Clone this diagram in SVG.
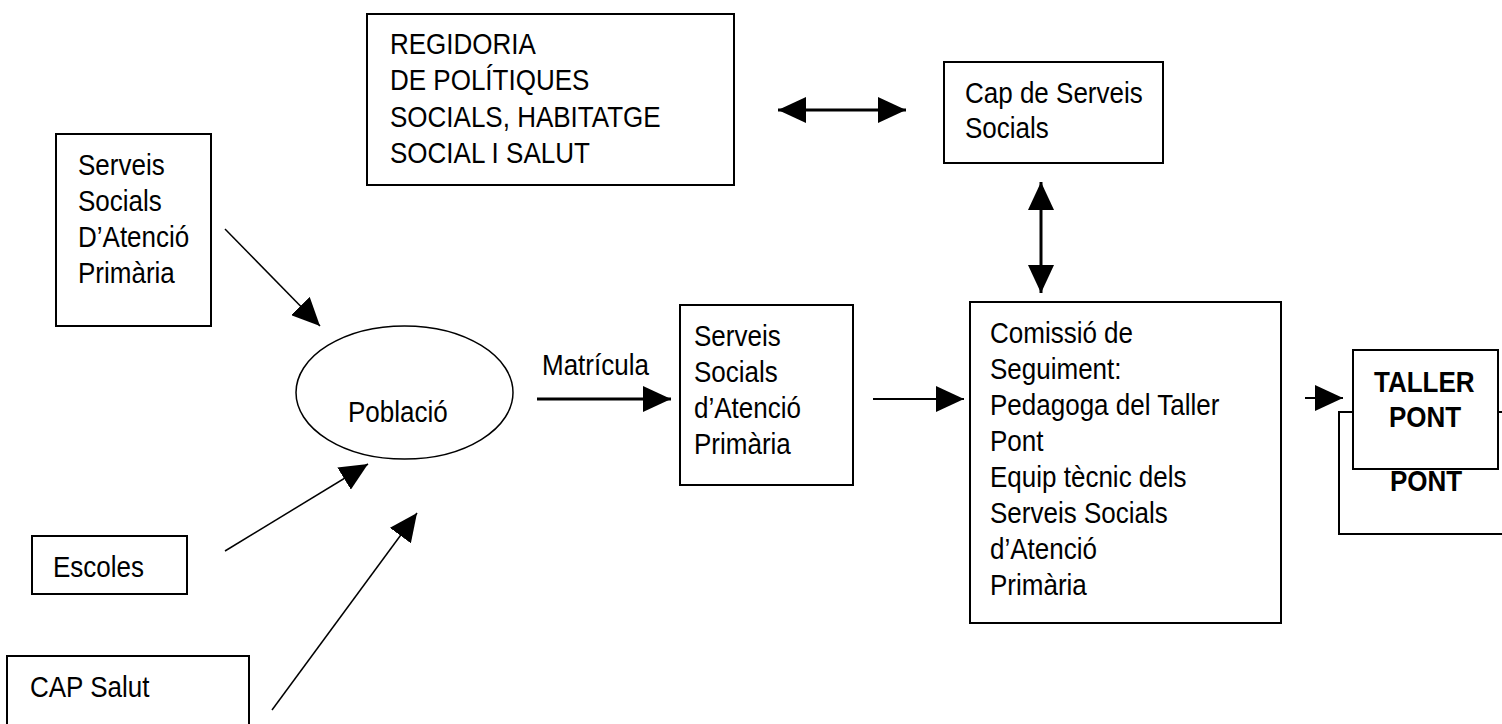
<svg xmlns="http://www.w3.org/2000/svg" width="1502" height="724" viewBox="0 0 1502 724">
<style>
.box{fill:#fff;stroke:#000;stroke-width:2}
.t{font-family:"Liberation Sans",Arial,sans-serif;font-size:29px;fill:#000}
.b{font-weight:bold}
.c{stroke:#000;fill:none}
</style>
<defs>
<marker id="ah" markerUnits="userSpaceOnUse" markerWidth="28" markerHeight="26" refX="28" refY="13" orient="auto-start-reverse" viewBox="0 0 28 26">
<path d="M0,0 L28,13 L0,26 z" fill="#000"/>
</marker>
</defs>
<rect width="1502" height="724" fill="#fff"/>

<g id="regidoria">
<rect class="box" x="367" y="14" width="367" height="171"/>
<text class="t" transform="translate(390 54) scale(0.897 1)"><tspan x="0" y="0">REGIDORIA</tspan><tspan x="0" dy="36.3">DE POLÍTIQUES</tspan><tspan x="0" dy="36.3">SOCIALS, HABITATGE</tspan><tspan x="0" dy="36.3">SOCIAL I SALUT</tspan></text>
</g>

<g id="cap-serveis">
<rect class="box" x="944" y="62" width="219" height="101"/>
<text class="t" transform="translate(965 103) scale(0.897 1)"><tspan x="0" y="0">Cap de Serveis</tspan><tspan x="0" dy="35">Socials</tspan></text>
</g>

<g id="serveis-left">
<rect class="box" x="56" y="134" width="155" height="192"/>
<text class="t" transform="translate(78 175) scale(0.897 1)"><tspan x="0" y="0">Serveis</tspan><tspan x="0" dy="36">Socials</tspan><tspan x="0" dy="36">D’Atenció</tspan><tspan x="0" dy="36">Primària</tspan></text>
</g>

<g id="poblacio">
<ellipse cx="404.5" cy="392.5" rx="108.5" ry="66.5" fill="#fff" stroke="#000" stroke-width="1.5"/>
<text class="t" transform="translate(348 422) scale(0.897 1)">Població</text>
</g>

<g id="escoles">
<rect class="box" x="32" y="536" width="155" height="58"/>
<text class="t" transform="translate(53 577) scale(0.897 1)">Escoles</text>
</g>

<g id="cap-salut">
<rect class="box" x="7" y="656" width="242" height="80"/>
<text class="t" transform="translate(30 697) scale(0.897 1)">CAP Salut</text>
</g>

<g id="serveis-mid">
<rect class="box" x="680" y="305" width="173" height="180"/>
<text class="t" transform="translate(694 346) scale(0.897 1)"><tspan x="0" y="0">Serveis</tspan><tspan x="0" dy="36">Socials</tspan><tspan x="0" dy="36">d’Atenció</tspan><tspan x="0" dy="36">Primària</tspan></text>
</g>

<g id="comissio">
<rect class="box" x="970" y="302" width="311" height="321"/>
<text class="t" transform="translate(990 343) scale(0.897 1)"><tspan x="0" y="0">Comissió de</tspan><tspan x="0" dy="36">Seguiment:</tspan><tspan x="0" dy="36">Pedagoga del Taller</tspan><tspan x="0" dy="36">Pont</tspan><tspan x="0" dy="36">Equip tècnic dels</tspan><tspan x="0" dy="36">Serveis Socials</tspan><tspan x="0" dy="36">d’Atenció</tspan><tspan x="0" dy="36">Primària</tspan></text>
</g>

<g id="taller-pont-back">
<rect class="box" x="1339" y="412" width="175" height="122"/>
<text class="t b" transform="translate(1390 491) scale(0.897 1)">PONT</text>
</g>

<g id="taller-pont">
<rect class="box" x="1353" y="350" width="145" height="119"/>
<text class="t b" transform="translate(1374 392) scale(0.897 1)">TALLER</text>
<text class="t b" transform="translate(1389 427) scale(0.897 1)">PONT</text>
</g>

<g id="connectors">
<line class="c" x1="778" y1="110" x2="906" y2="110" stroke-width="3" marker-start="url(#ah)" marker-end="url(#ah)"/>
<line class="c" x1="1041" y1="182" x2="1041" y2="293" stroke-width="3" marker-start="url(#ah)" marker-end="url(#ah)"/>
<line class="c" x1="225" y1="229" x2="320" y2="326" stroke-width="1.5" marker-end="url(#ah)"/>
<line class="c" x1="225" y1="551" x2="368" y2="464" stroke-width="1.5" marker-end="url(#ah)"/>
<line class="c" x1="272" y1="710" x2="417" y2="513" stroke-width="1.5" marker-end="url(#ah)"/>
<line class="c" x1="537" y1="399" x2="671" y2="399" stroke-width="3" marker-end="url(#ah)"/>
<text class="t" transform="translate(542 375) scale(0.897 1)">Matrícula</text>
<line class="c" x1="873" y1="399" x2="964" y2="399" stroke-width="2" marker-end="url(#ah)"/>
<line class="c" x1="1305" y1="398" x2="1343" y2="398" stroke-width="2" marker-end="url(#ah)"/>
</g>
</svg>
